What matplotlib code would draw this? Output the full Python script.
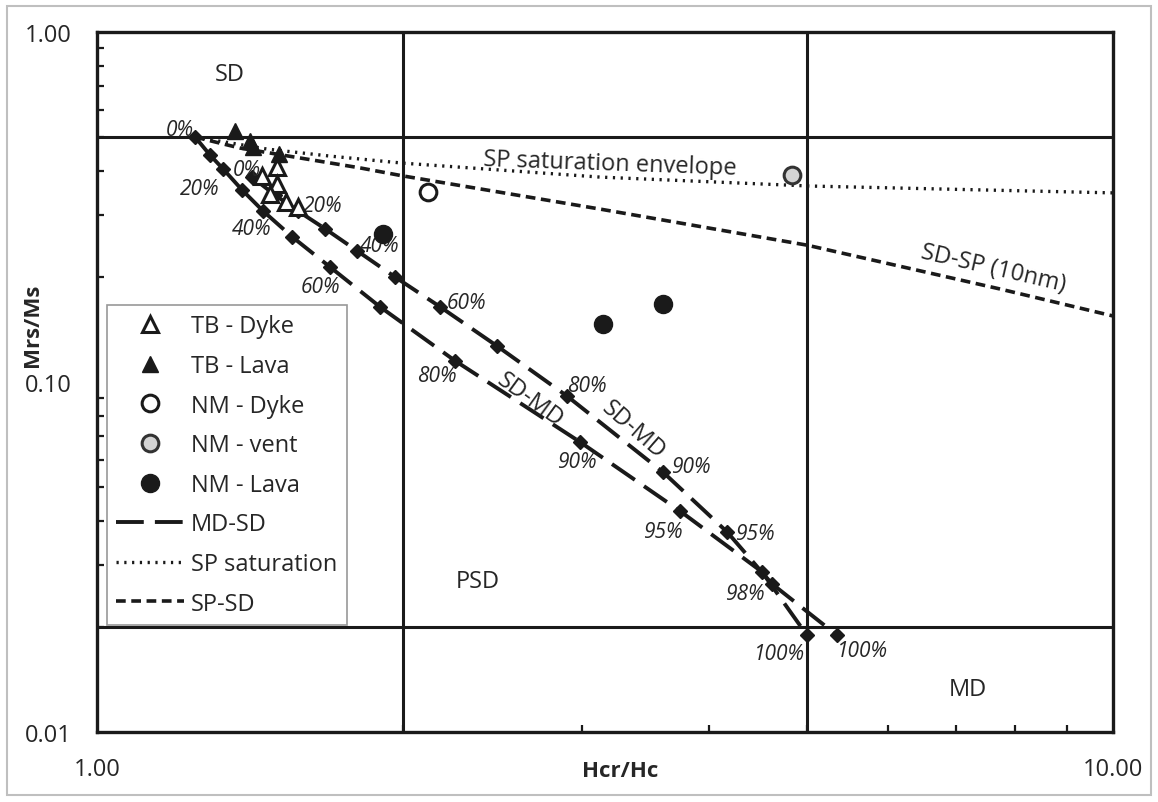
import numpy as np
import matplotlib
matplotlib.use('Agg')
import matplotlib.pyplot as plt
from matplotlib.lines import Line2D
from matplotlib.patches import Rectangle
from matplotlib.ticker import FixedLocator, FixedFormatter, NullFormatter

plt.rcParams['font.family'] = ['Open Sans', 'DejaVu Sans']
plt.rcParams['lines.scale_dashes'] = False

# SD-MD mixing curves, lower-left one and upper-right one
mix1_hcr = [1.249, 1.292, 1.331, 1.389, 1.457, 1.556, 1.696, 1.899, 2.251, 2.988, 3.748, 4.512, 4.998]
mix1_mrs = [0.501, 0.445, 0.406, 0.354, 0.308, 0.260, 0.213, 0.164, 0.115, 0.0674, 0.0428, 0.0287, 0.0189]
mix2_hcr = [1.421, 1.497, 1.577, 1.677, 1.803, 1.965, 2.176, 2.476, 2.901, 3.606, 4.170, 4.617, 5.350]
mix2_mrs = [0.385, 0.342, 0.308, 0.274, 0.237, 0.1995, 0.164, 0.1267, 0.0912, 0.0553, 0.0373, 0.0265, 0.0189]

# percent labels on the curves
mix1_pct = ['0%', '20%', '40%', '60%', '80%', '90%', '95%', '98%', '100%']
mix1_pct_x = [1.207, 1.263, 1.421, 1.658, 2.161, 2.968, 3.606, 4.343, 4.701]
mix1_pct_y = [0.525, 0.358, 0.274, 0.187, 0.1047, 0.0591, 0.0375, 0.0248, 0.0168]
mix2_pct = ['0%', '20%', '40%', '60%', '80%', '90%', '95%', '100%']
mix2_pct_x = [1.405, 1.669, 1.899, 2.312, 3.036, 3.843, 4.443, 5.675]
mix2_pct_y = [0.406, 0.320, 0.245, 0.169, 0.098, 0.0572, 0.037, 0.01715]

# SP saturation envelope and SD-SP (10nm) curve
spsat_hcr = [1.249, 1.470, 1.696, 2.0, 3.126, 5.03, 10.0]
spsat_mrs = [0.501, 0.463, 0.442, 0.422, 0.385, 0.363, 0.347]
sdsp_hcr = [1.249, 1.383, 1.815, 2.0, 3.126, 5.0, 7.74, 10.0]
sdsp_mrs = [0.501, 0.466, 0.409, 0.388, 0.312, 0.246, 0.1844, 0.1544]

# samples
tb_dyke_hcr = [1.504, 1.454, 1.504, 1.480, 1.535, 1.577]
tb_dyke_mrs = [0.411, 0.388, 0.368, 0.344, 0.327, 0.316]
tb_lava_hcr = [1.367, 1.414, 1.424, 1.511]
tb_lava_mrs = [0.521, 0.488, 0.469, 0.448]
nm_dyke_hcr = [2.117]
nm_dyke_mrs = [0.349]
nm_vent_hcr = [4.83]
nm_vent_mrs = [0.390]
nm_lava_hcr = [1.912, 3.148, 3.606]
nm_lava_mrs = [0.265, 0.1466, 0.167]

# domain boundaries
bound_hcr = [2.0, 5.0]
bound_mrs = [0.5, 0.02]

TXT = '#262626'
LN = '#1a1a1a'
LONGDASH = (0, (20, 8))
FS = 17


def dashed_curve(ax, xs, ys):
    # excel restarts the dash pattern at every point
    for i in range(len(xs) - 1):
        ax.plot(xs[i:i + 2], ys[i:i + 2], color=LN, lw=2.8, linestyle=LONGDASH,
                dash_capstyle='butt', zorder=3)
    ax.plot(xs, ys, linestyle='none', marker='D', ms=7, color=LN, zorder=4)


fig = plt.figure(figsize=(11.58, 8.03), dpi=100)
ax = fig.add_axes([97 / 1158, 70 / 803, 1016 / 1158, 700 / 803])
ax.set_xscale('log')
ax.set_yscale('log')
ax.set_xlim(1, 10)
ax.set_ylim(0.01, 1)

for x in bound_hcr:
    ax.axvline(x, color=LN, lw=2.2, zorder=2)
for y in bound_mrs:
    ax.axhline(y, color=LN, lw=2.2, zorder=2)

ax.plot(spsat_hcr, spsat_mrs, color=LN, lw=2.4, linestyle=(0, (1.6, 4)), zorder=3)
ax.plot(sdsp_hcr, sdsp_mrs, color=LN, lw=2.6, linestyle=(0, (7, 4)), dash_capstyle='butt', zorder=3)

dashed_curve(ax, mix1_hcr, mix1_mrs)
dashed_curve(ax, mix2_hcr, mix2_mrs)

for t, x, y in zip(mix1_pct, mix1_pct_x, mix1_pct_y):
    ax.text(x, y, t, style='italic', fontsize=15, color=TXT, ha='center', va='center', zorder=5)
for t, x, y in zip(mix2_pct, mix2_pct_x, mix2_pct_y):
    ax.text(x, y, t, style='italic', fontsize=15, color=TXT, ha='center', va='center', zorder=5)

ax.plot(tb_dyke_hcr, tb_dyke_mrs, linestyle='none', marker='^', ms=12, mfc='white', mec=LN, mew=2.2, zorder=6)
ax.plot(tb_lava_hcr, tb_lava_mrs, linestyle='none', marker='^', ms=12, color=LN, zorder=6)
ax.plot(nm_dyke_hcr, nm_dyke_mrs, linestyle='none', marker='o', ms=12, mfc='white', mec=LN, mew=2.2, zorder=6)
ax.plot(nm_vent_hcr, nm_vent_mrs, linestyle='none', marker='o', ms=12, mfc='#d4d4d4', mec='#333333', mew=2.2, zorder=6)
ax.plot(nm_lava_hcr, nm_lava_mrs, linestyle='none', marker='o', ms=13, color=LN, zorder=6)

# region and curve labels
ax.text(1.352, 0.759, 'SD', fontsize=FS, color=TXT, ha='center', va='center')
ax.text(2.371, 0.027, 'PSD', fontsize=FS, color=TXT, ha='center', va='center')
ax.text(7.199, 0.01327, 'MD', fontsize=FS, color=TXT, ha='center', va='center')
ax.text(3.20, 0.420, 'SP saturation envelope', fontsize=FS, color=TXT, ha='center', va='center', rotation=-2)
ax.text(7.62, 0.212, 'SD-SP (10nm)', fontsize=FS, color=TXT, ha='center', va='center', rotation=-13)
ax.text(2.668, 0.0894, 'SD-MD', fontsize=FS, color=TXT, ha='center', va='center', rotation=-36)
ax.text(3.37, 0.0734, 'SD-MD', fontsize=FS, color=TXT, ha='center', va='center', rotation=-41)

# axes styling
for s in ax.spines.values():
    s.set_linewidth(2.4)
    s.set_color(LN)
ax.xaxis.set_major_locator(FixedLocator([1, 10]))
ax.xaxis.set_major_formatter(FixedFormatter(['1.00', '10.00']))
ax.yaxis.set_major_locator(FixedLocator([0.01, 0.1, 1]))
ax.yaxis.set_major_formatter(FixedFormatter(['0.01', '0.10', '1.00']))
ax.xaxis.set_minor_locator(FixedLocator([2, 3, 4, 5, 6, 7, 8, 9]))
ax.yaxis.set_minor_locator(FixedLocator([0.02, 0.03, 0.04, 0.05, 0.06, 0.07, 0.08, 0.09,
                                         0.2, 0.3, 0.4, 0.5, 0.6, 0.7, 0.8, 0.9]))
ax.xaxis.set_minor_formatter(NullFormatter())
ax.yaxis.set_minor_formatter(NullFormatter())
ax.tick_params(which='major', length=0, labelsize=FS, labelcolor=TXT, pad=18)
ax.tick_params(which='minor', direction='in', length=5, width=1.6, color=LN)

fig.text(32 / 1158, 1 - 325 / 803, 'Mrs/Ms', rotation=90, fontsize=16, fontweight='bold',
         color=TXT, ha='center', va='center')
fig.text(620 / 1158, 1 - 772 / 803, 'Hcr/Hc', fontsize=16, fontweight='bold',
         color=TXT, ha='center', va='center')

handles = [
    Line2D([], [], linestyle='none', marker='^', ms=12, mfc='white', mec=LN, mew=2.2),
    Line2D([], [], linestyle='none', marker='^', ms=12, color=LN),
    Line2D([], [], linestyle='none', marker='o', ms=12, mfc='white', mec=LN, mew=2.2),
    Line2D([], [], linestyle='none', marker='o', ms=12, mfc='#d4d4d4', mec='#333333', mew=2.2),
    Line2D([], [], linestyle='none', marker='o', ms=13, color=LN),
    Line2D([], [], color=LN, lw=2.8, linestyle=(0, (20, 8))),
    Line2D([], [], color=LN, lw=2.4, linestyle=(0, (1.6, 4))),
    Line2D([], [], color=LN, lw=2.6, linestyle=(0, (7, 4))),
]
labels = ['TB - Dyke', 'TB - Lava', 'NM - Dyke', 'NM - vent', 'NM - Lava',
          'MD-SD', 'SP saturation', 'SP-SD']
leg = ax.legend(handles, labels, loc='upper left', bbox_to_anchor=(107 / 1158, 1 - 306 / 803),
                bbox_transform=fig.transFigure, fontsize=FS, frameon=True, fancybox=False,
                handlelength=2.85, handletextpad=0.3, labelspacing=0.66, borderpad=0.4,
                borderaxespad=0)
leg.get_frame().set_edgecolor('#7f7f7f')
leg.get_frame().set_linewidth(1.2)
for t in leg.get_texts():
    t.set_color(TXT)

fig.patches.append(Rectangle((7 / 1158, 7 / 803), 1144 / 1158, 789 / 803, transform=fig.transFigure,
                             fill=False, edgecolor='#bfbfbf', lw=1.5))

fig.savefig('out.png', dpi=100)
